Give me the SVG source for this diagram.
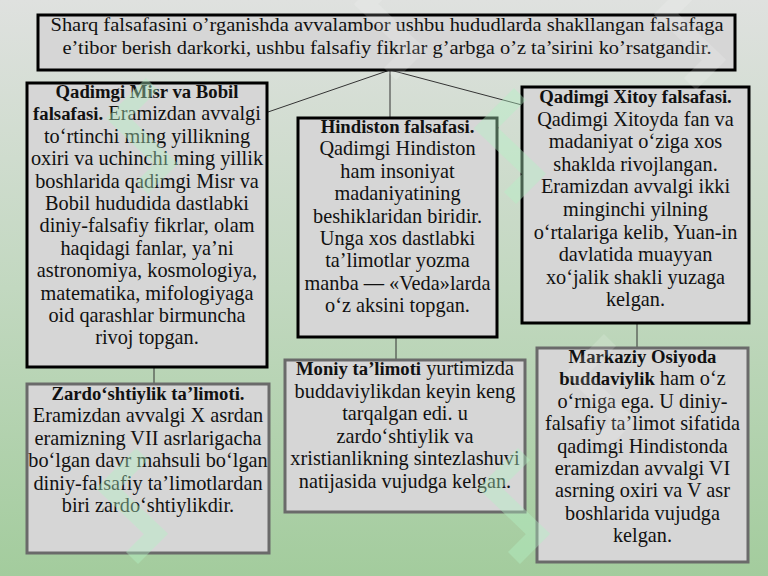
<svg xmlns="http://www.w3.org/2000/svg" width="768" height="576" viewBox="0 0 768 576">
<defs>
<linearGradient id="bg" x1="0" y1="0" x2="0" y2="1">
<stop offset="0" stop-color="#dfe1df"/>
<stop offset="0.5" stop-color="#c2d8c0"/>
<stop offset="1" stop-color="#a3cc9d"/>
</linearGradient>
<polyline id="logo" points="0,10 -34,44 14,90 -10,114" fill="none" stroke-width="17" stroke-linejoin="miter" stroke-linecap="butt"/>
</defs>
<style>
.box{fill:#d6d6d6;stroke:#000;stroke-width:3}
.box2{fill:#d6d6d6;stroke:#6a6a6a;stroke-width:3}
.t{font-family:"Liberation Serif","Times New Roman",serif;font-size:20.3px;fill:#111;text-anchor:middle}
.b{font-weight:bold;font-size:18.7px}
.top{font-family:"Liberation Serif","Times New Roman",serif;font-size:18px;fill:#111;text-anchor:middle}
.c{stroke:#333;stroke-width:1;fill:none}
.wm{stroke:#b4f2c6;opacity:0.4}
.wm2{stroke:#ffffff;opacity:0.15}
</style>
<rect width="768" height="576" fill="url(#bg)"/>
<g id="connectors">
<line class="c" x1="390" y1="70" x2="268" y2="112"/>
<line class="c" x1="390" y1="70" x2="390" y2="118"/>
<line class="c" x1="390" y1="70" x2="522" y2="105"/>
<line class="c" x1="154" y1="367" x2="154" y2="384"/>
<line class="c" x1="396" y1="337" x2="396" y2="360"/>
<line class="c" x1="637" y1="323" x2="637" y2="348"/>
</g>
<g id="top">
<rect class="box" x="38" y="15" width="697" height="55"/>
<text class="top" x="387" y="31" textLength="673" lengthAdjust="spacingAndGlyphs">Sharq falsafasini o’rganishda avvalambor ushbu hududlarda shakllangan falsafaga</text>
<text class="top" x="387" y="54" textLength="649" lengthAdjust="spacingAndGlyphs">e’tibor berish darkorki, ushbu falsafiy fikrlar g’arbga o’z ta’sirini ko’rsatgandir.</text>
</g>
<g id="misr">
<rect class="box" x="27" y="83" width="240" height="284"/>
<text class="t" x="147" y="98"><tspan class="b">Qadimgi Misr va Bobil</tspan></text>
<text class="t" x="147" y="120.4"><tspan class="b">falsafasi.</tspan> Eramizdan avvalgi</text>
<text class="t" x="147" y="142.8">to‘rtinchi ming yillikning</text>
<text class="t" x="147" y="165.2">oxiri va uchinchi ming yillik</text>
<text class="t" x="147" y="187.6">boshlarida qadimgi Misr va</text>
<text class="t" x="147" y="210">Bobil hududida dastlabki</text>
<text class="t" x="147" y="232.4">diniy-falsafiy fikrlar, olam</text>
<text class="t" x="147" y="254.8">haqidagi fanlar, ya’ni</text>
<text class="t" x="147" y="277.2">astronomiya, kosmologiya,</text>
<text class="t" x="147" y="299.6">matematika, mifologiyaga</text>
<text class="t" x="147" y="322">oid qarashlar birmuncha</text>
<text class="t" x="147" y="344.4">rivoj topgan.</text>
</g>
<g id="hindiston">
<rect class="box" x="298" y="118" width="199" height="219"/>
<text class="t" x="397.5" y="133"><tspan class="b">Hindiston falsafasi.</tspan></text>
<text class="t" x="397.5" y="155.4">Qadimgi Hindiston</text>
<text class="t" x="397.5" y="177.8">ham insoniyat</text>
<text class="t" x="397.5" y="200.2">madaniyatining</text>
<text class="t" x="397.5" y="222.6">beshiklaridan biridir.</text>
<text class="t" x="397.5" y="245">Unga xos dastlabki</text>
<text class="t" x="397.5" y="267.4">ta’limotlar yozma</text>
<text class="t" x="397.5" y="289.8">manba — «Veda»larda</text>
<text class="t" x="397.5" y="312.2">o‘z aksini topgan.</text>
</g>
<g id="xitoy">
<rect class="box" x="522" y="87" width="227" height="236"/>
<text class="t" x="635.5" y="103"><tspan class="b">Qadimgi Xitoy falsafasi.</tspan></text>
<text class="t" x="635.5" y="125.6">Qadimgi Xitoyda fan va</text>
<text class="t" x="635.5" y="148.2">madaniyat o‘ziga xos</text>
<text class="t" x="635.5" y="170.8">shaklda rivojlangan.</text>
<text class="t" x="635.5" y="193.4">Eramizdan avvalgi ikki</text>
<text class="t" x="635.5" y="216">minginchi yilning</text>
<text class="t" x="635.5" y="238.6">o‘rtalariga kelib, Yuan-in</text>
<text class="t" x="635.5" y="261.2">davlatida muayyan</text>
<text class="t" x="635.5" y="283.8">xo‘jalik shakli yuzaga</text>
<text class="t" x="635.5" y="306.4">kelgan.</text>
</g>
<g id="zardoshtiylik">
<rect class="box2" x="27" y="384" width="242" height="169"/>
<text class="t" x="148" y="400"><tspan class="b">Zardo‘shtiylik ta’limoti.</tspan></text>
<text class="t" x="148" y="422.4">Eramizdan avvalgi X asrdan</text>
<text class="t" x="148" y="444.8">eramizning VII asrlarigacha</text>
<text class="t" x="148" y="467.2">bo‘lgan davr mahsuli bo‘lgan</text>
<text class="t" x="148" y="489.6">diniy-falsafiy ta’limotlardan</text>
<text class="t" x="148" y="512">biri zardo‘shtiylikdir.</text>
</g>
<g id="moniy">
<rect class="box2" x="285" y="360" width="240" height="152"/>
<text class="t" x="405" y="375"><tspan class="b">Moniy ta’limoti</tspan> yurtimizda</text>
<text class="t" x="405" y="397.6">buddaviylikdan keyin keng</text>
<text class="t" x="405" y="420.2">tarqalgan edi. u</text>
<text class="t" x="405" y="442.8">zardo‘shtiylik va</text>
<text class="t" x="405" y="465.4">xristianlikning sintezlashuvi</text>
<text class="t" x="405" y="488">natijasida vujudga kelgan.</text>
</g>
<g id="buddaviylik">
<rect class="box2" x="537" y="348" width="211" height="214"/>
<text class="t" x="642.5" y="363"><tspan class="b">Markaziy Osiyoda</tspan></text>
<text class="t" x="642.5" y="385.4"><tspan class="b">buddaviylik</tspan> ham o‘z</text>
<text class="t" x="642.5" y="407.8">o‘rniga ega. U diniy-</text>
<text class="t" x="642.5" y="430.2">falsafiy ta’limot sifatida</text>
<text class="t" x="642.5" y="452.6">qadimgi Hindistonda</text>
<text class="t" x="642.5" y="475">eramizdan avvalgi VI</text>
<text class="t" x="642.5" y="497.4">asrning oxiri va V asr</text>
<text class="t" x="642.5" y="519.8">boshlarida vujudga</text>
<text class="t" x="642.5" y="542.2">kelgan.</text>
</g>
<g id="watermarks">
<use href="#logo" class="wm" x="152" y="74"/>
<use href="#logo" class="wm" x="520" y="84"/>
<use href="#logo" class="wm" x="142" y="444"/>
<use href="#logo" class="wm" x="524" y="444"/>
<use href="#logo" class="wm2" x="400" y="-40"/>
<use href="#logo" class="wm2" x="700" y="-30"/>
<use href="#logo" class="wm2" x="610" y="330"/>
</g>
</svg>
